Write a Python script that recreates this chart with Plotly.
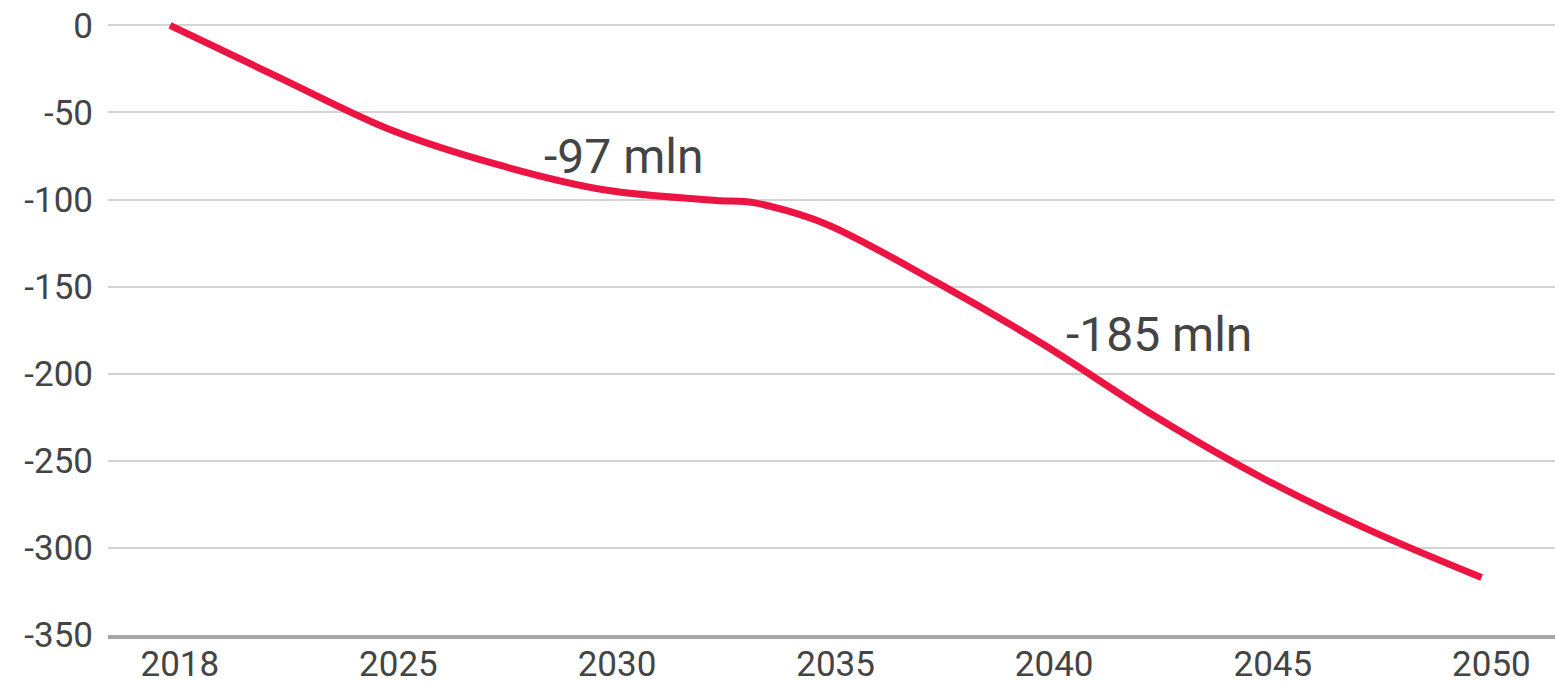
import plotly.graph_objects as go

# Category tick labels (evenly spaced categories)
tick_labels = ["2018", "2025", "2030", "2035", "2040", "2045", "2050"]
tick_index = [0, 1, 2, 3, 4, 5, 6]

# Y ticks
y_ticks = [0, -50, -100, -150, -200, -250, -300, -350]
y_tick_labels = ["0", "-50", "-100", "-150", "-200", "-250", "-300", "-350"]

# Line values, positions in category-index units
line_index = [0, 0.5, 1, 1.5, 2, 2.5, 2.67, 3, 3.5, 4, 4.5, 5, 5.5, 6]
line_values = [0, -30, -59.5, -80, -94.7, -100.5, -101.8, -114, -147, -183.5, -224, -260, -290.5, -317]

annotation_texts = ["-97 mln", "-185 mln"]

TICK_SHIFT = 0.045

fig = go.Figure()
fig.add_trace(go.Scatter(
    x=line_index, y=line_values, mode="lines",
    line=dict(color="#EC1443", width=7, shape="spline", smoothing=0.9),
    hoverinfo="skip", showlegend=False,
))

fig.add_annotation(x=1.70, y=-75.5, text=annotation_texts[0], showarrow=False,
                   xanchor="left", yanchor="middle",
                   font=dict(family="Roboto", size=48, color="#444444"))
fig.add_annotation(x=4.09, y=-177.3, text=annotation_texts[1], showarrow=False,
                   xanchor="left", yanchor="middle",
                   font=dict(family="Roboto", size=48, color="#444444"))

fig.update_layout(
    width=1555, height=685,
    margin=dict(l=108, r=0, t=21, b=46),
    paper_bgcolor="white", plot_bgcolor="white",
    font=dict(family="Roboto", size=36, color="#444444"),
    xaxis=dict(
        range=[-0.2836, 6.336],
        tickvals=[t + TICK_SHIFT for t in tick_index],
        ticktext=tick_labels,
        showgrid=False, zeroline=False,
        showline=True, linecolor="#A7A7AB", linewidth=4,
        ticks="", tickfont=dict(size=35, color="#444444"),
        ticklabelstandoff=-5,
        fixedrange=True,
    ),
    yaxis=dict(
        range=[-350, 2.5],
        tickvals=y_ticks, ticktext=y_tick_labels,
        showgrid=True, gridcolor="#D3D3D3", gridwidth=1.5,
        zeroline=False, showline=False, ticks="",
        ticklabelstandoff=14,
        tickfont=dict(size=35, color="#444444"),
        fixedrange=True,
    ),
)

fig.write_html("out.html")
